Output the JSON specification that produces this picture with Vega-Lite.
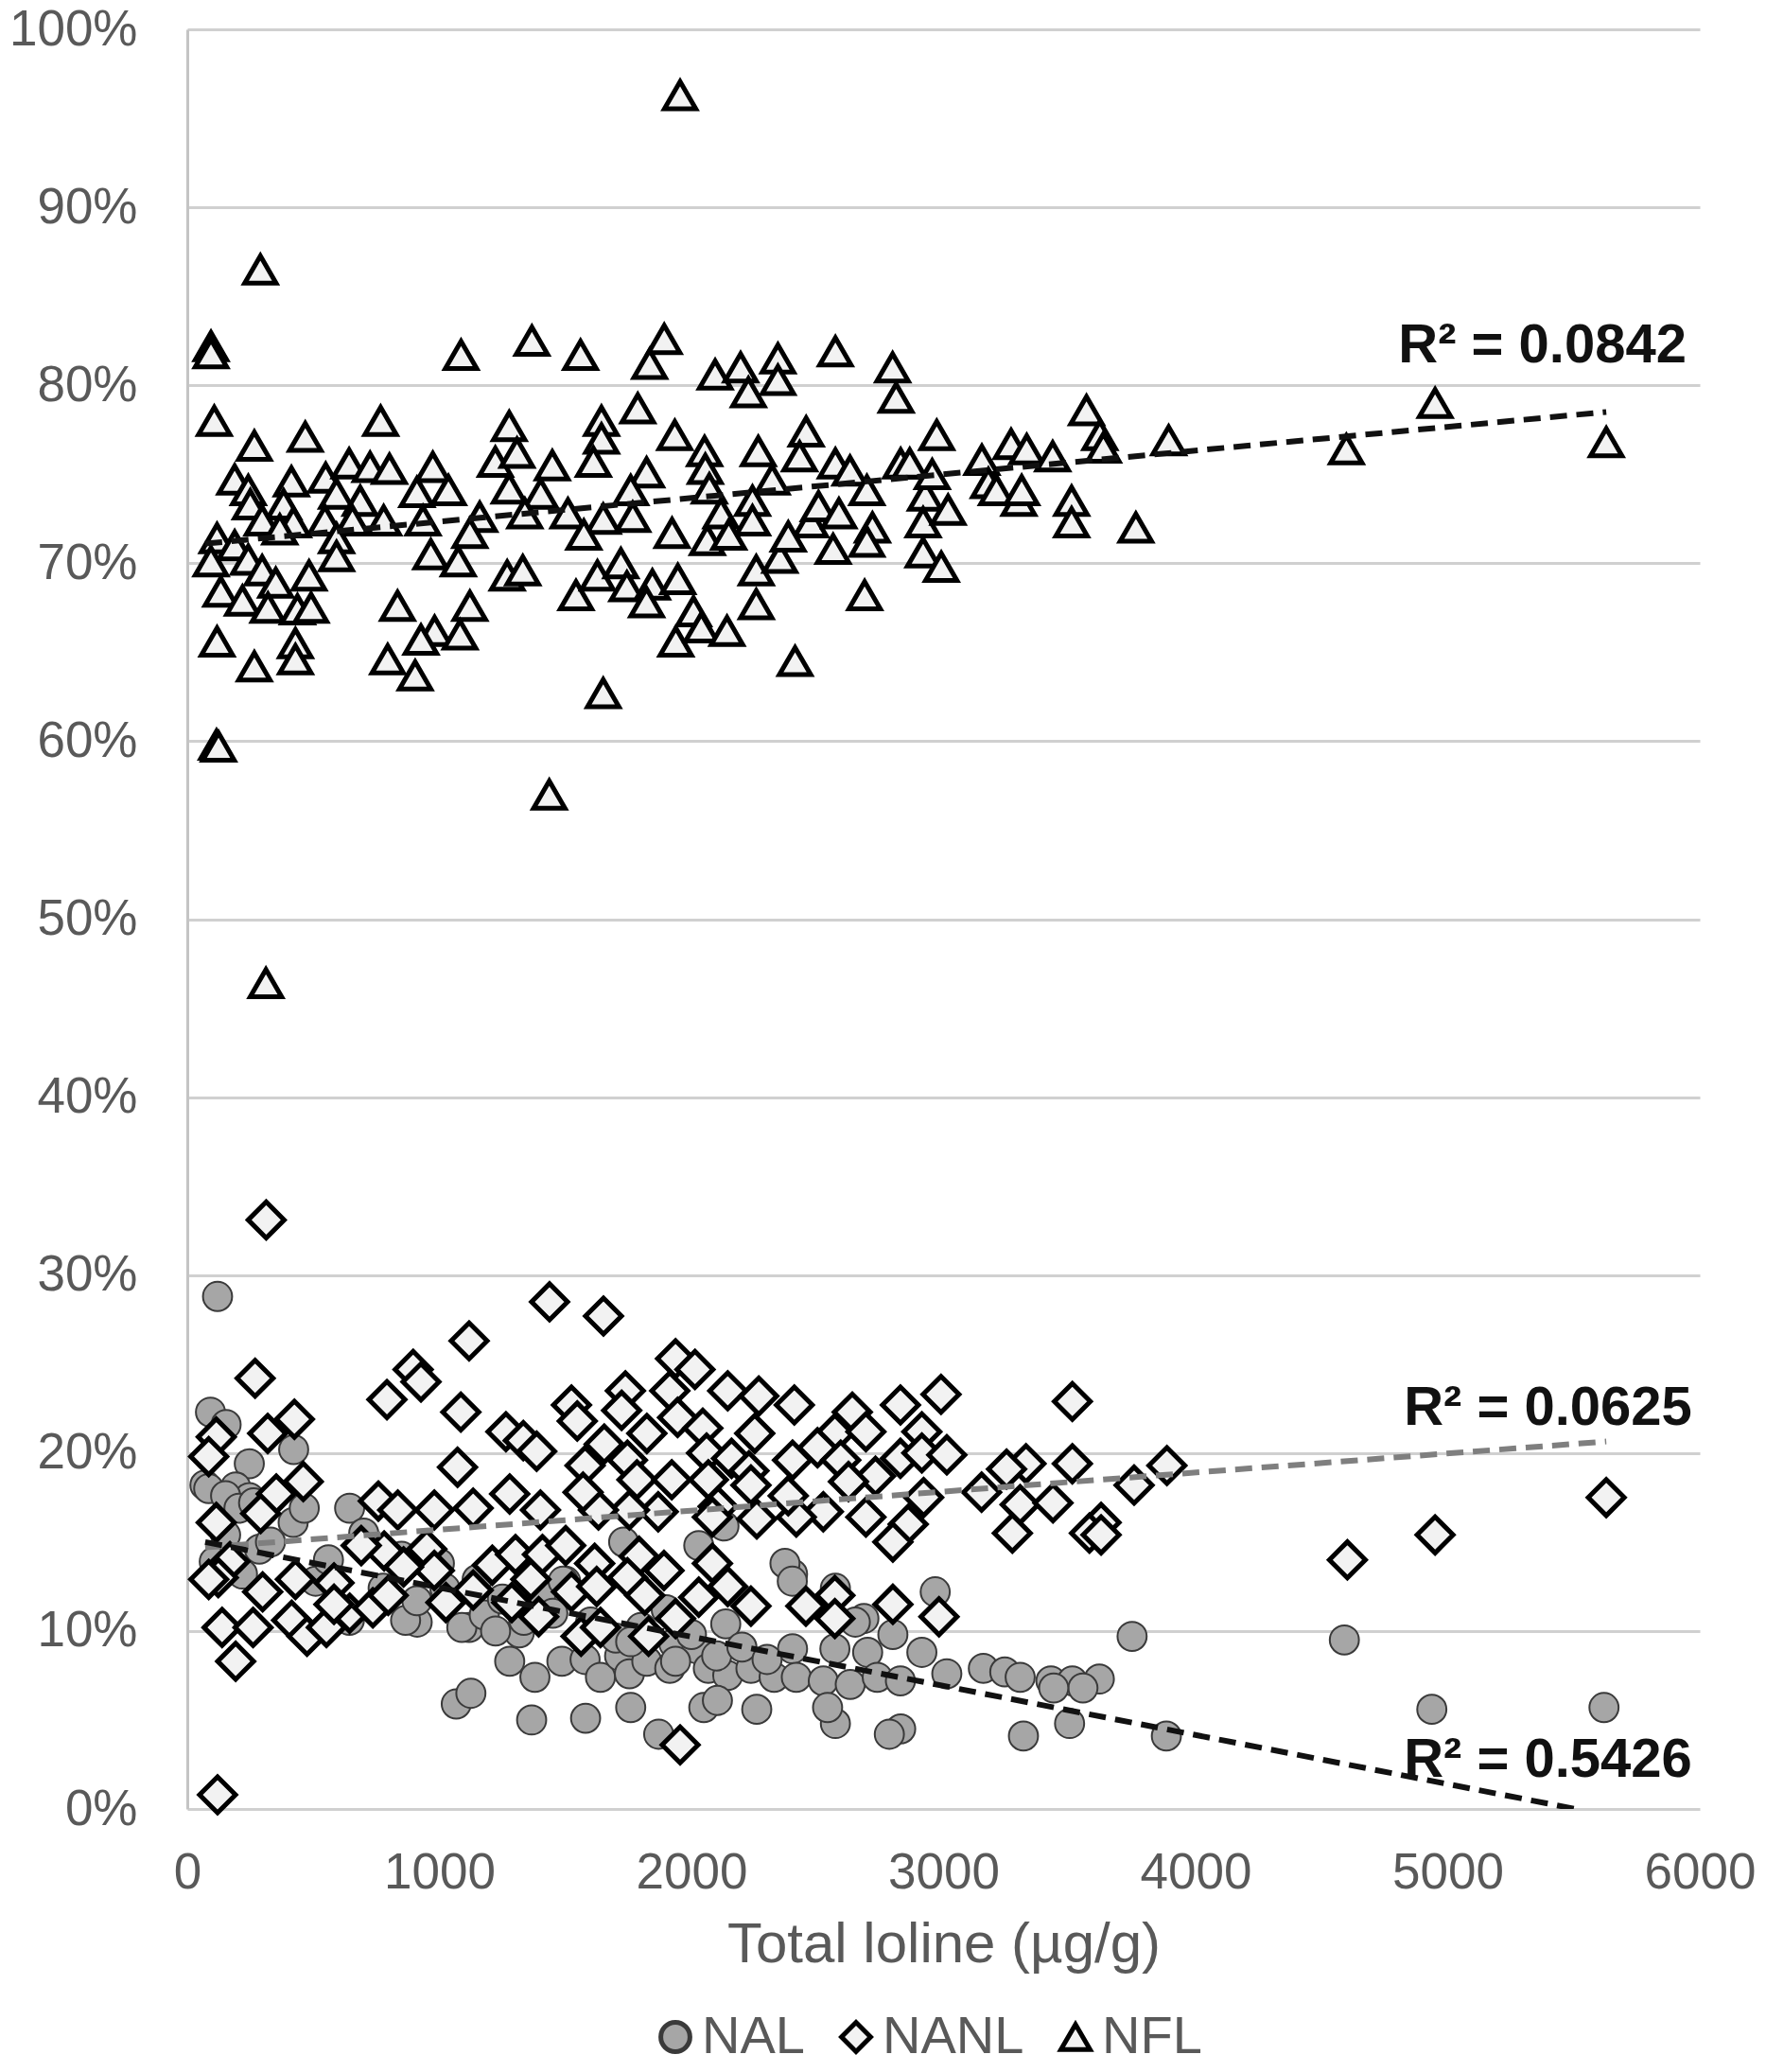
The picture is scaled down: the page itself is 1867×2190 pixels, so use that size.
{
"$schema": "https://vega.github.io/schema/vega-lite/v6.json",
"width": 1599, "height": 1881,
"autosize": {"type": "none"},
"padding": {"left": 198, "top": 31, "right": 70, "bottom": 278},
"background": "white",
"config": {"view": {"stroke": null}, "font": "Liberation Sans", "legend": {"symbolStrokeWidth": 4, "symbolSize": 950}},
"datasets": {
"points": [
{"s":"NAL","x":120,"y":28.8},{"s":"NAL","x":92,"y":22.3},{"s":"NAL","x":154,"y":21.6},{"s":"NAL","x":246,"y":19.4},{"s":"NAL","x":422,"y":20.2},{"s":"NAL","x":70,"y":18.2},{"s":"NAL","x":192,"y":18.1},{"s":"NAL","x":246,"y":17.5},{"s":"NAL","x":644,"y":16.9},{"s":"NAL","x":912,"y":10.5},{"s":"NAL","x":1118,"y":10.2},{"s":"NAL","x":1279,"y":8.3},{"s":"NAL","x":1379,"y":7.4},{"s":"NAL","x":1501,"y":12.8},{"s":"NAL","x":1486,"y":8.3},{"s":"NAL","x":1578,"y":8.4},{"s":"NAL","x":1639,"y":7.4},{"s":"NAL","x":1715,"y":8.6},{"s":"NAL","x":1754,"y":7.6},{"s":"NAL","x":1823,"y":8.3},{"s":"NAL","x":1914,"y":7.9},{"s":"NAL","x":1930,"y":9.3},{"s":"NAL","x":2022,"y":9.0},{"s":"NAL","x":2067,"y":7.9},{"s":"NAL","x":2136,"y":10.4},{"s":"NAL","x":2029,"y":14.8},{"s":"NAL","x":2144,"y":7.5},{"s":"NAL","x":2236,"y":7.9},{"s":"NAL","x":2328,"y":7.4},{"s":"NAL","x":1731,"y":15.0},{"s":"NAL","x":2129,"y":15.9},{"s":"NAL","x":1317,"y":9.9},
{"s":"NAL","x":2967,"y":12.2},{"s":"NAL","x":3748,"y":9.7},{"s":"NAL","x":4590,"y":9.5},{"s":"NAL","x":2684,"y":10.7},{"s":"NAL","x":2799,"y":9.8},{"s":"NAL","x":2699,"y":8.8},{"s":"NAL","x":2914,"y":8.8},{"s":"NAL","x":2569,"y":9.0},{"s":"NAL","x":2401,"y":9.0},{"s":"NAL","x":2401,"y":13.2},{"s":"NAL","x":2416,"y":7.4},{"s":"NAL","x":2523,"y":7.2},{"s":"NAL","x":2630,"y":7.0},{"s":"NAL","x":2737,"y":7.4},{"s":"NAL","x":2829,"y":7.2},{"s":"NAL","x":3013,"y":7.6},{"s":"NAL","x":3158,"y":7.9},{"s":"NAL","x":3243,"y":7.7},{"s":"NAL","x":3304,"y":7.4},{"s":"NAL","x":3426,"y":7.2},{"s":"NAL","x":3511,"y":7.2},{"s":"NAL","x":3618,"y":7.3},
{"s":"NAL","x":3317,"y":4.1},{"s":"NAL","x":3500,"y":4.8},{"s":"NAL","x":3884,"y":4.1},{"s":"NAL","x":1870,"y":4.2},{"s":"NAL","x":1366,"y":5.0},{"s":"NAL","x":1580,"y":5.1},{"s":"NAL","x":1067,"y":5.9},{"s":"NAL","x":1125,"y":6.5},{"s":"NAL","x":2571,"y":4.8},{"s":"NAL","x":2830,"y":4.5},{"s":"NAL","x":2785,"y":4.2},{"s":"NAL","x":2259,"y":5.6},{"s":"NAL","x":1759,"y":5.7},{"s":"NAL","x":2049,"y":5.7},{"s":"NAL","x":2103,"y":6.1},{"s":"NAL","x":2540,"y":5.7},{"s":"NAL","x":3553,"y":6.8},{"s":"NAL","x":3437,"y":6.8},{"s":"NAL","x":4937,"y":5.6},{"s":"NAL","x":5620,"y":5.7},
{"s":"NAL","x":107,"y":13.9},{"s":"NAL","x":152,"y":15.4},{"s":"NAL","x":219,"y":13.2},{"s":"NAL","x":286,"y":14.6},{"s":"NAL","x":420,"y":16.1},{"s":"NAL","x":85,"y":18.0},{"s":"NAL","x":152,"y":17.6},{"s":"NAL","x":205,"y":16.9},{"s":"NAL","x":263,"y":17.2},{"s":"NAL","x":464,"y":16.9},{"s":"NAL","x":509,"y":12.8},{"s":"NAL","x":598,"y":11.3},{"s":"NAL","x":643,"y":10.6},{"s":"NAL","x":777,"y":12.4},{"s":"NAL","x":866,"y":10.6},{"s":"NAL","x":911,"y":11.7},{"s":"NAL","x":1022,"y":12.4},{"s":"NAL","x":1089,"y":10.2},{"s":"NAL","x":1178,"y":10.9},{"s":"NAL","x":1223,"y":10.0},{"s":"NAL","x":1335,"y":10.6},{"s":"NAL","x":1402,"y":12.0},{"s":"NAL","x":1491,"y":12.8},
{"s":"NAL","x":330,"y":15.0},{"s":"NAL","x":560,"y":14.0},{"s":"NAL","x":700,"y":15.5},{"s":"NAL","x":850,"y":14.2},{"s":"NAL","x":1000,"y":13.8},{"s":"NAL","x":1150,"y":12.9},{"s":"NAL","x":1250,"y":11.8},{"s":"NAL","x":1450,"y":11.0},{"s":"NAL","x":1600,"y":10.5},{"s":"NAL","x":1700,"y":9.6},{"s":"NAL","x":1800,"y":10.2},{"s":"NAL","x":1900,"y":11.2},{"s":"NAL","x":2000,"y":9.8},{"s":"NAL","x":2100,"y":8.6},{"s":"NAL","x":2200,"y":9.1},{"s":"NAL","x":2300,"y":8.4},{"s":"NAL","x":2371,"y":13.8},{"s":"NAL","x":2400,"y":12.8},{"s":"NAL","x":2571,"y":12.4},{"s":"NAL","x":2650,"y":10.5},{"s":"NAL","x":1759,"y":9.4},{"s":"NAL","x":1937,"y":8.3},
{"s":"NANL","x":1437,"y":28.5},{"s":"NANL","x":1651,"y":27.7},{"s":"NANL","x":1118,"y":26.3},{"s":"NANL","x":269,"y":24.2},{"s":"NANL","x":792,"y":23.0},{"s":"NANL","x":896,"y":24.7},{"s":"NANL","x":927,"y":24.0},{"s":"NANL","x":1085,"y":22.3},{"s":"NANL","x":1072,"y":19.2},{"s":"NANL","x":425,"y":21.9},{"s":"NANL","x":319,"y":21.1},{"s":"NANL","x":115,"y":20.9},{"s":"NANL","x":85,"y":19.8},{"s":"NANL","x":460,"y":18.4},{"s":"NANL","x":353,"y":17.7},{"s":"NANL","x":291,"y":16.6},{"s":"NANL","x":115,"y":16.1},{"s":"NANL","x":1264,"y":21.2},{"s":"NANL","x":1333,"y":20.7},{"s":"NANL","x":1386,"y":20.1},{"s":"NANL","x":1279,"y":17.7},{"s":"NANL","x":1401,"y":16.8},{"s":"NANL","x":1524,"y":22.7},{"s":"NANL","x":1547,"y":21.8},{"s":"NANL","x":1654,"y":20.5},{"s":"NANL","x":1578,"y":19.3},{"s":"NANL","x":1738,"y":23.5},{"s":"NANL","x":1723,"y":22.4},{"s":"NANL","x":1823,"y":21.1},{"s":"NANL","x":1746,"y":19.6},{"s":"NANL","x":1784,"y":18.5},{"s":"NANL","x":1937,"y":25.3},{"s":"NANL","x":2014,"y":24.7},{"s":"NANL","x":1914,"y":23.5},{"s":"NANL","x":1945,"y":22.0},{"s":"NANL","x":2045,"y":21.4},{"s":"NANL","x":2144,"y":23.5},{"s":"NANL","x":2267,"y":23.2},{"s":"NANL","x":2251,"y":21.1},{"s":"NANL","x":2060,"y":20.0},{"s":"NANL","x":2159,"y":19.7},{"s":"NANL","x":1922,"y":18.5},{"s":"NANL","x":2067,"y":18.5},{"s":"NANL","x":2228,"y":19.0},{"s":"NANL","x":2236,"y":18.2},{"s":"NANL","x":2106,"y":17.0},{"s":"NANL","x":2259,"y":16.3},{"s":"NANL","x":1868,"y":16.7},{"s":"NANL","x":1754,"y":16.8},{"s":"NANL","x":1631,"y":16.8},{"s":"NANL","x":1570,"y":17.8},{"s":"NANL","x":758,"y":17.3},{"s":"NANL","x":835,"y":16.8},{"s":"NANL","x":980,"y":16.8},{"s":"NANL","x":1134,"y":16.9},
{"s":"NANL","x":169,"y":13.9},{"s":"NANL","x":123,"y":13.0},{"s":"NANL","x":299,"y":12.2},{"s":"NANL","x":429,"y":12.9},{"s":"NANL","x":582,"y":12.7},{"s":"NANL","x":138,"y":10.2},{"s":"NANL","x":261,"y":10.2},{"s":"NANL","x":192,"y":8.3},{"s":"NANL","x":414,"y":10.6},{"s":"NANL","x":475,"y":9.7},{"s":"NANL","x":552,"y":10.2},{"s":"NANL","x":644,"y":11.0},{"s":"NANL","x":736,"y":11.3},{"s":"NANL","x":797,"y":12.0},{"s":"NANL","x":781,"y":14.5},{"s":"NANL","x":690,"y":14.8},{"s":"NANL","x":950,"y":14.6},{"s":"NANL","x":980,"y":13.4},{"s":"NANL","x":1026,"y":11.6},{"s":"NANL","x":858,"y":13.6},{"s":"NANL","x":1134,"y":12.3},{"s":"NANL","x":1210,"y":13.7},{"s":"NANL","x":1302,"y":14.3},{"s":"NANL","x":1287,"y":11.6},{"s":"NANL","x":1363,"y":12.9},{"s":"NANL","x":1394,"y":10.8},{"s":"NANL","x":1409,"y":14.3},{"s":"NANL","x":1501,"y":14.8},{"s":"NANL","x":1524,"y":12.2},{"s":"NANL","x":1616,"y":13.8},{"s":"NANL","x":1624,"y":12.5},{"s":"NANL","x":1562,"y":9.7},{"s":"NANL","x":1639,"y":10.2},{"s":"NANL","x":1792,"y":14.2},{"s":"NANL","x":1746,"y":13.0},{"s":"NANL","x":1815,"y":12.0},{"s":"NANL","x":1891,"y":13.4},{"s":"NANL","x":1937,"y":10.7},{"s":"NANL","x":1830,"y":9.7},{"s":"NANL","x":2083,"y":13.8},{"s":"NANL","x":2144,"y":12.5},{"s":"NANL","x":2029,"y":11.9},{"s":"NANL","x":2236,"y":11.4},{"s":"NANL","x":2083,"y":16.4},{"s":"NANL","x":85,"y":12.9},{"s":"NANL","x":582,"y":11.5},{"s":"NANL","x":313,"y":33.1},{"s":"NANL","x":120,"y":0.8},{"s":"NANL","x":1955,"y":3.6},
{"s":"NANL","x":2408,"y":22.7},{"s":"NANL","x":2638,"y":22.3},{"s":"NANL","x":2829,"y":22.7},{"s":"NANL","x":2990,"y":23.3},{"s":"NANL","x":3511,"y":22.9},{"s":"NANL","x":2569,"y":21.1},{"s":"NANL","x":2692,"y":21.2},{"s":"NANL","x":2914,"y":21.2},{"s":"NANL","x":2500,"y":20.3},{"s":"NANL","x":2401,"y":19.6},{"s":"NANL","x":2592,"y":19.6},{"s":"NANL","x":2730,"y":18.7},{"s":"NANL","x":2829,"y":19.7},{"s":"NANL","x":2914,"y":20.0},{"s":"NANL","x":3013,"y":19.9},{"s":"NANL","x":3327,"y":19.4},{"s":"NANL","x":3511,"y":19.4},{"s":"NANL","x":3886,"y":19.3},{"s":"NANL","x":3756,"y":18.2},{"s":"NANL","x":3151,"y":17.8},{"s":"NANL","x":3250,"y":19.1},{"s":"NANL","x":3304,"y":17.1},{"s":"NANL","x":3434,"y":17.2},{"s":"NANL","x":3273,"y":15.5},{"s":"NANL","x":3625,"y":16.1},{"s":"NANL","x":3579,"y":15.5},{"s":"NANL","x":3625,"y":15.4},{"s":"NANL","x":2523,"y":16.7},{"s":"NANL","x":2692,"y":16.4},{"s":"NANL","x":2860,"y":16.0},{"s":"NANL","x":2799,"y":15.0},{"s":"NANL","x":2921,"y":17.5},{"s":"NANL","x":2623,"y":18.4},{"s":"NANL","x":4602,"y":14.0},{"s":"NANL","x":2454,"y":11.4},{"s":"NANL","x":2569,"y":12.0},{"s":"NANL","x":2569,"y":10.7},{"s":"NANL","x":2799,"y":11.5},{"s":"NANL","x":2982,"y":10.8},{"s":"NANL","x":2416,"y":16.4},{"s":"NANL","x":4950,"y":15.4},{"s":"NANL","x":5629,"y":17.5},{"s":"NANL","x":2384,"y":17.6},
{"s":"NFL","x":94,"y":82.2},{"s":"NFL","x":94,"y":81.8},{"s":"NFL","x":1086,"y":81.7},{"s":"NFL","x":1367,"y":82.5},{"s":"NFL","x":1560,"y":81.7},{"s":"NFL","x":1892,"y":82.6},{"s":"NFL","x":1834,"y":81.2},{"s":"NFL","x":2094,"y":80.6},{"s":"NFL","x":2195,"y":81.0},{"s":"NFL","x":2226,"y":79.6},{"s":"NFL","x":2343,"y":81.5},{"s":"NFL","x":2343,"y":80.3},{"s":"NFL","x":107,"y":78.0},{"s":"NFL","x":266,"y":76.6},{"s":"NFL","x":468,"y":77.1},{"s":"NFL","x":767,"y":78.0},{"s":"NFL","x":1277,"y":77.7},{"s":"NFL","x":1643,"y":78.0},{"s":"NFL","x":1787,"y":78.7},{"s":"NFL","x":1643,"y":77.0},{"s":"NFL","x":1934,"y":77.2},{"s":"NFL","x":2052,"y":76.3},{"s":"NFL","x":2265,"y":76.3},{"s":"NFL","x":188,"y":74.7},{"s":"NFL","x":242,"y":74.1},{"s":"NFL","x":413,"y":74.6},{"s":"NFL","x":549,"y":74.8},{"s":"NFL","x":642,"y":75.6},{"s":"NFL","x":725,"y":75.4},{"s":"NFL","x":802,"y":75.3},{"s":"NFL","x":974,"y":75.4},{"s":"NFL","x":1222,"y":75.7},{"s":"NFL","x":1308,"y":76.2},{"s":"NFL","x":1448,"y":75.5},{"s":"NFL","x":1611,"y":75.7},{"s":"NFL","x":1822,"y":75.1},{"s":"NFL","x":2055,"y":75.3},{"s":"NFL","x":2320,"y":74.7},{"s":"NFL","x":250,"y":73.3},{"s":"NFL","x":382,"y":73.3},{"s":"NFL","x":592,"y":73.9},{"s":"NFL","x":686,"y":73.5},{"s":"NFL","x":911,"y":74.0},{"s":"NFL","x":1036,"y":74.1},{"s":"NFL","x":1277,"y":74.2},{"s":"NFL","x":1402,"y":73.9},{"s":"NFL","x":1759,"y":74.1},{"s":"NFL","x":2071,"y":74.2},{"s":"NFL","x":2242,"y":73.5},{"s":"NFL","x":297,"y":72.4},{"s":"NFL","x":421,"y":72.3},{"s":"NFL","x":546,"y":72.4},{"s":"NFL","x":655,"y":72.4},{"s":"NFL","x":779,"y":72.4},{"s":"NFL","x":935,"y":72.4},{"s":"NFL","x":1160,"y":72.6},{"s":"NFL","x":1339,"y":72.8},{"s":"NFL","x":1510,"y":72.8},{"s":"NFL","x":1650,"y":72.5},{"s":"NFL","x":1767,"y":72.6},{"s":"NFL","x":2117,"y":72.8},{"s":"NFL","x":2242,"y":72.4},{"s":"NFL","x":118,"y":71.4},{"s":"NFL","x":188,"y":71.0},{"s":"NFL","x":367,"y":71.9},{"s":"NFL","x":592,"y":71.4},{"s":"NFL","x":1121,"y":71.7},{"s":"NFL","x":1573,"y":71.6},{"s":"NFL","x":1923,"y":71.7},{"s":"NFL","x":2063,"y":71.3},{"s":"NFL","x":2148,"y":71.6},{"s":"NFL","x":94,"y":70.1},{"s":"NFL","x":242,"y":70.2},{"s":"NFL","x":592,"y":70.4},{"s":"NFL","x":966,"y":70.5},{"s":"NFL","x":1075,"y":70.1},{"s":"NFL","x":2257,"y":69.6},{"s":"NFL","x":2351,"y":70.3},{"s":"NFL","x":133,"y":68.4},{"s":"NFL","x":297,"y":69.6},{"s":"NFL","x":351,"y":68.9},{"s":"NFL","x":483,"y":69.3},{"s":"NFL","x":219,"y":67.9},{"s":"NFL","x":320,"y":67.5},{"s":"NFL","x":437,"y":67.4},{"s":"NFL","x":491,"y":67.5},{"s":"NFL","x":1269,"y":69.3},{"s":"NFL","x":1331,"y":69.6},{"s":"NFL","x":1542,"y":68.2},{"s":"NFL","x":1627,"y":69.3},{"s":"NFL","x":1720,"y":70.0},{"s":"NFL","x":1744,"y":68.7},{"s":"NFL","x":1845,"y":68.8},{"s":"NFL","x":1946,"y":69.1},{"s":"NFL","x":1822,"y":67.8},{"s":"NFL","x":2008,"y":67.3},{"s":"NFL","x":834,"y":67.6},{"s":"NFL","x":1121,"y":67.6},{"s":"NFL","x":981,"y":66.2},{"s":"NFL","x":1082,"y":66.0},{"s":"NFL","x":927,"y":65.7},{"s":"NFL","x":118,"y":65.6},{"s":"NFL","x":429,"y":65.5},{"s":"NFL","x":429,"y":64.6},{"s":"NFL","x":266,"y":64.2},{"s":"NFL","x":795,"y":64.6},{"s":"NFL","x":904,"y":63.7},{"s":"NFL","x":1650,"y":62.7},{"s":"NFL","x":1938,"y":65.6},{"s":"NFL","x":2039,"y":66.4},{"s":"NFL","x":2141,"y":66.2},{"s":"NFL","x":2257,"y":67.7},
{"s":"NFL","x":1955,"y":96.3},{"s":"NFL","x":290,"y":86.5},{"s":"NFL","x":312,"y":46.4},{"s":"NFL","x":1436,"y":57.0},{"s":"NFL","x":116,"y":59.8},{"s":"NFL","x":124,"y":59.7},
{"s":"NFL","x":2411,"y":64.5},{"s":"NFL","x":2571,"y":81.9},{"s":"NFL","x":2455,"y":77.4},{"s":"NFL","x":2429,"y":76.0},{"s":"NFL","x":2473,"y":72.3},{"s":"NFL","x":2384,"y":71.5},{"s":"NFL","x":2504,"y":73.2},{"s":"NFL","x":2571,"y":75.6},{"s":"NFL","x":2585,"y":72.8},{"s":"NFL","x":2562,"y":70.8},{"s":"NFL","x":2629,"y":75.2},{"s":"NFL","x":2696,"y":74.1},{"s":"NFL","x":2718,"y":72.0},{"s":"NFL","x":2696,"y":71.2},{"s":"NFL","x":2687,"y":68.2},{"s":"NFL","x":2798,"y":81.0},{"s":"NFL","x":2812,"y":79.3},{"s":"NFL","x":2830,"y":75.6},{"s":"NFL","x":2866,"y":75.6},{"s":"NFL","x":2919,"y":70.6},{"s":"NFL","x":2928,"y":73.8},{"s":"NFL","x":2955,"y":75.0},{"s":"NFL","x":2919,"y":72.3},{"s":"NFL","x":2973,"y":77.2},{"s":"NFL","x":2991,"y":69.8},{"s":"NFL","x":3018,"y":73.0},{"s":"NFL","x":3152,"y":75.8},{"s":"NFL","x":3178,"y":74.5},{"s":"NFL","x":3210,"y":74.1},{"s":"NFL","x":3268,"y":76.7},{"s":"NFL","x":3299,"y":73.5},{"s":"NFL","x":3330,"y":76.4},{"s":"NFL","x":3310,"y":74.1},{"s":"NFL","x":3433,"y":76.0},{"s":"NFL","x":3508,"y":73.5},{"s":"NFL","x":3508,"y":72.3},{"s":"NFL","x":3567,"y":78.6},{"s":"NFL","x":3620,"y":77.2},{"s":"NFL","x":3634,"y":76.5},{"s":"NFL","x":3763,"y":72.0},{"s":"NFL","x":3893,"y":76.9},{"s":"NFL","x":4598,"y":76.4},{"s":"NFL","x":4950,"y":79.0},{"s":"NFL","x":5629,"y":76.8}
],
"trends": [
{"t":"NFL","x":71,"y":71.1},{"t":"NFL","x":5629,"y":78.5},
{"t":"NANL","x":71,"y":14.7},{"t":"NANL","x":5629,"y":20.65},
{"t":"NAL","x":71,"y":15.0},{"t":"NAL","x":5507,"y":0}
],
"labels": [
{"x":4804,"y":81.3,"label":"R² = 0.0842"},
{"x":4826,"y":21.6,"label":"R² = 0.0625"},
{"x":4826,"y":1.81,"label":"R² = 0.5426"}
]
},
"encoding": {
"x": {"field": "x", "type": "quantitative", "scale": {"domain": [0, 6000], "nice": false},
"axis": {"title": "Total loline (µg/g)", "values": [0,1000,2000,3000,4000,5000,6000], "format": "d", "grid": false, "ticks": false, "domain": false, "labelFontSize": 53, "labelColor": "#595959", "labelPadding": 41, "labelFlush": false, "titleFontSize": 60, "titleFontWeight": "normal", "titleColor": "#595959", "titlePadding": 20}},
"y": {"field": "y", "type": "quantitative", "scale": {"domain": [0, 100], "nice": false},
"axis": {"title": null, "values": [0,10,20,30,40,50,60,70,80,90,100], "grid": true, "gridColor": "#d0d0d0", "gridWidth": 3, "ticks": false, "domain": true, "domainColor": "#c4c4c4", "domainWidth": 3, "labelExpr": "datum.value + '%'", "labelFontSize": 53, "labelColor": "#595959", "labelPadding": 53, "labelFlush": false}}
},
"layer": [
{
"data": {"name": "points"},
"transform": [{"filter": "datum.s === 'NAL'"}],
"mark": {"type": "point", "filled": true, "opacity": 1, "size": 950, "strokeWidth": 2},
"encoding": {
"shape": {"field": "s", "type": "nominal", "scale": {"domain": ["NAL","NANL","NFL"], "range": ["circle","diamond","triangle-up"]},
"legend": {"title": null, "orient": "none", "legendX": 488, "legendY": 2094, "direction": "horizontal", "labelFontSize": 56, "labelColor": "#595959", "labelOffset": 0, "columnPadding": 26, "symbolStrokeWidth": 5}},
"fill": {"field": "s", "type": "nominal", "scale": {"domain": ["NAL","NANL","NFL"], "range": ["#a6a6a6","#f2f2f2","#f2f2f2"]}},
"stroke": {"field": "s", "type": "nominal", "scale": {"domain": ["NAL","NANL","NFL"], "range": ["#3a3a3a","#000000","#000000"]}}
}
},
{
"data": {"name": "points"},
"transform": [{"filter": "datum.s === 'NANL'"}],
"mark": {"type": "point", "filled": true, "opacity": 1, "size": 1450, "strokeWidth": 5},
"encoding": {
"shape": {"field": "s", "type": "nominal"},
"fill": {"field": "s", "type": "nominal"},
"stroke": {"field": "s", "type": "nominal"}
}
},
{
"data": {"name": "points"},
"transform": [{"filter": "datum.s === 'NFL'"}],
"mark": {"type": "point", "filled": true, "opacity": 1, "size": 1100, "strokeWidth": 5},
"encoding": {
"shape": {"field": "s", "type": "nominal"},
"fill": {"field": "s", "type": "nominal"},
"stroke": {"field": "s", "type": "nominal"}
}
},
{
"data": {"name": "trends"},
"mark": {"type": "line", "strokeDash": [18, 10], "strokeWidth": 6, "clip": true},
"encoding": {
"detail": {"field": "t", "type": "nominal"},
"color": {"field": "t", "type": "nominal", "scale": {"domain": ["NAL","NANL","NFL"], "range": ["#111111","#7f7f7f","#111111"]}, "legend": null}
}
},
{
"data": {"name": "labels"},
"mark": {"type": "text", "align": "left", "baseline": "alphabetic", "fontSize": 58, "fontWeight": "bold", "color": "#111111"},
"encoding": {
"text": {"field": "label", "type": "nominal"}
}
}
]
}
